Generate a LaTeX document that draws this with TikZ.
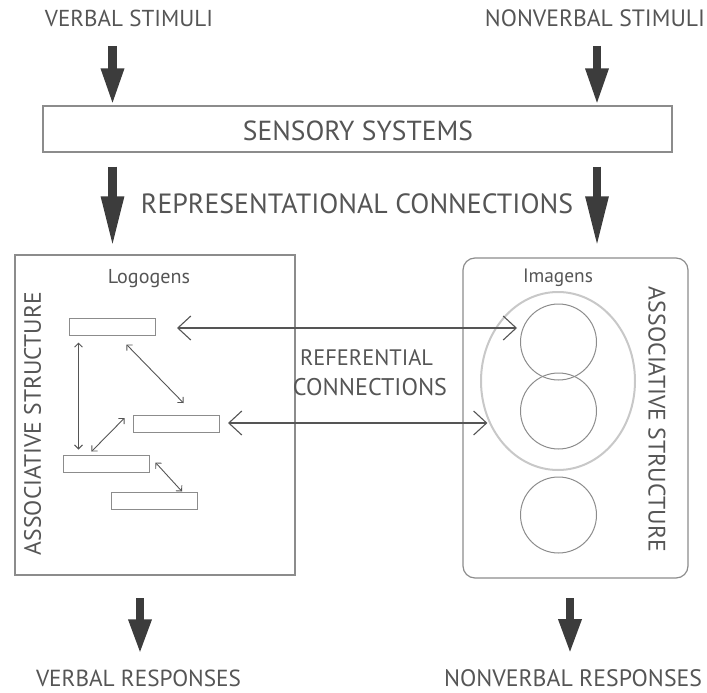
\documentclass[tikz,border=0pt]{standalone}
\usepackage{graphicx}
\usepackage{fontspec}
\setmainfont{PT Sans}
\usetikzlibrary{arrows.meta,shapes.geometric,calc}

\definecolor{inkgray}{HTML}{555555}
\definecolor{arrowgray}{HTML}{3C3C3C}
\definecolor{linegray}{HTML}{8C8C8C}
\definecolor{palegray}{HTML}{C8C8C8}

% set a label to a given width
\newcommand{\fitw}[2]{\resizebox{#1}{!}{#2}}

\tikzset{
  label/.style={text=inkgray, inner sep=0pt},
  bigarrow/.style={draw=arrowgray, line width=8.5pt, -{Triangle[width=21pt,length=#1]}},
  bigarrow/.default=37pt,
  thinarrow/.style={draw=inkgray, line width=1.1pt, {Straight Barb[length=13pt,width=24pt]}-{Straight Barb[length=13pt,width=24pt]}},
  smallarrow/.style={draw=inkgray, line width=0.9pt, {Straight Barb[length=4pt,width=8pt]}-{Straight Barb[length=4pt,width=8pt]}},
  logo/.style={draw=linegray, line width=1pt, minimum width=86pt, minimum height=17pt, inner sep=0pt},
  imago/.style={draw=linegray, line width=1pt, circle, minimum size=76pt, inner sep=0pt}
}

\begin{document}
\begin{tikzpicture}[x=1pt,y=-1pt]
  \useasboundingbox (0,0) rectangle (707,693);
  % Stimuli and the sensory systems
  \node[label] (vs) at (129,18.5) {\fitw{168pt}{VERBAL STIMULI}};
  \node[label] (ns) at (595,18.5) {\fitw{220pt}{NONVERBAL STIMULI}};
  \node[draw=linegray, line width=1.2pt, minimum width=629pt, minimum height=46pt, inner sep=0pt] (sens) at (357.5,129) {};
  \node[label] (senst) at (358,131) {\fitw{230pt}{SENSORY SYSTEMS}};
  \coordinate (vtop) at (112.5,46);
  \coordinate (ntop) at (597,46);
  \draw[bigarrow] (vtop) -- (vtop |- sens.north);
  \draw[bigarrow] (ntop) -- (ntop |- sens.north);
  \node[label] (repr) at (357,204) {\fitw{432pt}{REPRESENTATIONAL CONNECTIONS}};

  % Left-hand side: verbal system
  \node[draw=linegray, line width=1.2pt, minimum width=280pt, minimum height=320pt, inner sep=0pt] (lbox) at (155,415) {};
  \draw[bigarrow=51pt, shorten <=14pt, shorten >=7pt] (sens.south -| vtop) -- (lbox.north -| vtop);
  \node[label] (logo) at (149,279) {\fitw{82pt}{Logogens}};
  \node[label, rotate=90] at (32.5,423.5) {\fitw{263pt}{ASSOCIATIVE STRUCTURE}};
  \node[logo] (l1) at (112,326.5) {};
  \node[logo] (l2) at (176,424) {};
  \node[logo] (l3) at (106,463.5) {};
  \node[logo] (l4) at (154.5,500.5) {};
  \draw[smallarrow] ($(l1.south west)+(10,7)$) -- ($(l3.north west)+(16,-5)$);
  \draw[smallarrow] ($(l1.south east)+(-29,9)$) -- ($(l2.north west)+(51,-12)$);
  \draw[smallarrow] ($(l2.north west)+(-8,3)$) -- ($(l3.north west)+(29,-3)$);
  \draw[smallarrow] ($(l3.south east)+(6,-10)$) -- ($(l4.north west)+(71,0)$);

  % Right-hand side: nonverbal system
  \node[draw=linegray, line width=1.2pt, rounded corners=12pt, minimum width=225pt, minimum height=320pt, inner sep=0pt] (rbox) at (575.5,418) {};
  \draw[bigarrow=51pt, shorten <=14pt, shorten >=10pt] (sens.south -| ntop) -- (rbox.north -| ntop);
  \node[label] (imag) at (558,278) {\fitw{70pt}{Imagens}};
  \node[label, rotate=-90] at (657,419.5) {\fitw{265pt}{ASSOCIATIVE STRUCTURE}};
  \node[draw=palegray, line width=2pt, ellipse, minimum width=154pt, minimum height=178pt, inner sep=0pt] (clus) at (558,381) {};
  \node[imago] (i1) at (558.5,342) {};
  \node[imago] (i2) at (558.5,411) {};
  \node[imago] (i3) at (558.5,515) {};

  % Referential connections between the two systems
  \coordinate (ra) at (177,328);
  \coordinate (rb) at (228,423);
  \draw[thinarrow, shorten >=3pt] (ra) -- (ra -| i1.west);
  \draw[thinarrow, shorten >=2pt] (rb) -- (rb -| clus.212);
  \node[label] (refa) at (366.5,357.5) {\fitw{133pt}{REFERENTIAL}};
  \node[label] (refb) at (370,387.5) {\fitw{154pt}{CONNECTIONS}};

  % Responses
  \node[label] (vr) at (138.5,678) {\fitw{205pt}{VERBAL RESPONSES}};
  \node[label] (nr) at (573,678) {\fitw{258pt}{NONVERBAL RESPONSES}};
  \coordinate (vbot) at (140,598);
  \coordinate (nbot) at (570,598);
  \draw[bigarrow=35pt, shorten >=15pt] (vbot) -- (vbot |- vr.north);
  \draw[bigarrow=35pt, shorten >=15pt] (nbot) -- (nbot |- nr.north);
\end{tikzpicture}
\end{document}
